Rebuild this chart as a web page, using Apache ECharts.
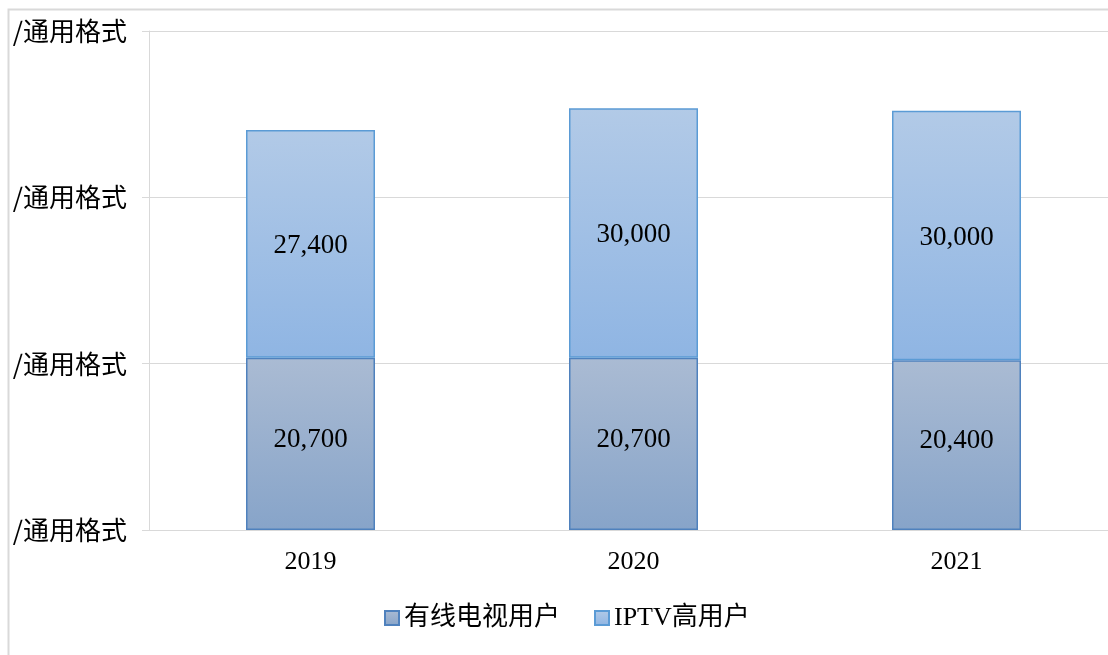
<!DOCTYPE html>
<html>
<head>
<meta charset="utf-8">
<script src="https://cdn.jsdelivr.net/npm/echarts@6/dist/echarts.min.js"></script>
<style>
html,body{margin:0;padding:0;background:#fff;}
#main{width:1108px;height:655px;}
</style>
</head>
<body>
<div id="main"></div>
<script>
var years = ['2019', '2020', '2021'];
var cableUsers = [20700, 20700, 20400];
var iptvUsers = [27400, 30000, 30000];
var yTicks = [0, 20000, 40000, 60000];
var yLabelText = '/通用格式';

var serif = '"Liberation Serif", "Times New Roman", "Noto Sans CJK SC", serif';
var myChart = echarts.init(document.getElementById('main'));

var opt = {
    animation: false,
    graphic: [{
        type: 'polyline',
        shape: {points: [[8.5, 700], [8.5, 9.5], [1200, 9.5]]},
        style: {stroke: '#d9d9d9', lineWidth: 2, fill: null},
        silent: true
    }],
    grid: {left: 149, top: 31, width: 969, height: 499, outerBoundsMode: 'none', containLabel: false},
    legend: {
        bottom: 19,
        left: 379,
        itemWidth: 14,
        itemHeight: 14,
        itemGap: 34,
        icon: 'rect',
        textStyle: {fontFamily: serif, fontSize: 26, color: '#000'},
        data: ['有线电视用户', 'IPTV高用户']
    },
    xAxis: {
        type: 'category',
        data: years,
        axisLine: {show: true, lineStyle: {color: '#d9d9d9', width: 1}},
        axisTick: {show: false},
        axisLabel: {fontFamily: serif, fontSize: 26, color: '#000', margin: 19}
    },
    yAxis: {
        type: 'value',
        min: yTicks[0],
        max: yTicks[yTicks.length - 1],
        interval: yTicks[1] - yTicks[0],
        axisLine: {show: true, lineStyle: {color: '#d9d9d9', width: 1}},
        axisTick: {show: true, length: 7, lineStyle: {color: '#d9d9d9'}},
        splitLine: {lineStyle: {color: '#d9d9d9', width: 1}},
        axisLabel: {
            fontFamily: '"Noto Sans CJK SC", sans-serif',
            fontSize: 26,
            color: '#000',
            margin: 22,
            formatter: function () { return yLabelText; }
        }
    },
    series: [
        {
            name: '有线电视用户',
            type: 'bar',
            stack: 'total',
            barWidth: 129,
            data: cableUsers,
            itemStyle: {
                color: new echarts.graphic.LinearGradient(0, 0, 0, 1, [
                    {offset: 0, color: '#aabbd3'},
                    {offset: 1, color: '#87a4c9'}
                ]),
                borderColor: '#4f81bd',
                borderWidth: 1.5
            },
            label: {
                show: true,
                position: 'inside',
                offset: [0, -4],
                fontFamily: serif,
                fontSize: 27,
                color: '#000',
                formatter: function (p) { return p.value.toLocaleString('en-US'); }
            }
        },
        {
            name: 'IPTV高用户',
            type: 'bar',
            stack: 'total',
            barWidth: 129,
            data: iptvUsers,
            itemStyle: {
                color: new echarts.graphic.LinearGradient(0, 0, 0, 1, [
                    {offset: 0, color: '#b2cae7'},
                    {offset: 1, color: '#8fb5e3'}
                ]),
                borderColor: '#5b9bd5',
                borderWidth: 1.5
            },
            label: {
                show: true,
                position: 'inside',
                offset: [0, 2],
                fontFamily: serif,
                fontSize: 27,
                color: '#000',
                formatter: function (p) { return p.value.toLocaleString('en-US'); }
            }
        }
    ]
};
myChart.setOption(opt);
</script>
</body>
</html>
